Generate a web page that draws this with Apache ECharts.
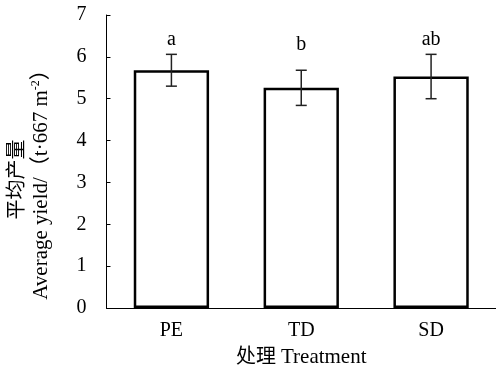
<!DOCTYPE html>
<html>
<head>
<meta charset="utf-8">
<script src="https://cdn.jsdelivr.net/npm/echarts@6/dist/echarts.min.js"></script>
<style>
  html, body { margin: 0; padding: 0; background: #fff; }
  #main { width: 496px; height: 373px; }
</style>
</head>
<body>
<div id="main"></div>
<script>
// data
const categories = ['PE', 'TD', 'SD'];
const yieldMean = [5.68, 5.26, 5.53];
const yieldErr = [0.38, 0.42, 0.53];
const letters = ['a', 'b', 'ab'];
const letterY = [6.18, 6.04, 6.18];

const FONT = "'Times New Roman', 'Liberation Serif', 'Noto Sans CJK SC', serif";

const chart = echarts.init(document.getElementById('main'));

const errData = categories.map((c, i) => [i, yieldMean[i] - yieldErr[i], yieldMean[i] + yieldErr[i]]);

chart.setOption({
  animation: false,
  grid: { left: 105, right: 0, top: 15, bottom: 65 },
  xAxis: {
    type: 'category',
    data: categories,
    axisLine: { lineStyle: { color: '#000', width: 1 } },
    axisTick: { inside: true, alignWithLabel: true, length: 4, lineStyle: { color: '#000' } },
    axisLabel: { color: '#000', fontFamily: FONT, fontSize: 20, margin: 13 },
    name: '{cn|处理 }{en|Treatment}',
    nameLocation: 'middle',
    nameGap: 39,
    nameTextStyle: {
      color: '#000',
      fontFamily: FONT,
      rich: {
        cn: { fontFamily: FONT, fontSize: 20, color: '#000' },
        en: { fontFamily: FONT, fontSize: 21, color: '#000' }
      }
    }
  },
  yAxis: {
    type: 'value',
    min: 0,
    max: 7,
    interval: 1,
    splitLine: { show: false },
    axisLine: { show: true, lineStyle: { color: '#000', width: 1 } },
    axisTick: { show: true, inside: true, length: 4, lineStyle: { color: '#000' } },
    axisLabel: { color: '#000', fontFamily: FONT, fontSize: 20, margin: 20 },
    name: '{cn|平均产量}\n{en|Average yield/（t·667 m}{sup|-2}{en|）}',
    nameLocation: 'middle',
    nameRotate: 90,
    nameGap: 54,
    nameTextStyle: {
      color: '#000',
      fontFamily: FONT,
      padding: [0, 36, 0, 0],
      rich: {
        cn: { fontFamily: FONT, fontSize: 20, lineHeight: 23, color: '#000' },
        en: { fontFamily: FONT, fontSize: 21, lineHeight: 23, color: '#000' },
        sup: { fontFamily: FONT, fontSize: 12, lineHeight: 23, color: '#000', verticalAlign: 'top', padding: [0, 0, 9, 0] }
      }
    }
  },
  series: [
    {
      type: 'bar',
      data: yieldMean,
      barWidth: '58%',
      itemStyle: { color: '#fff', borderColor: '#000', borderWidth: 2.5 }
    },
    {
      type: 'custom',
      data: errData,
      z: 10,
      renderItem: function (params, api) {
        const i = api.value(0);
        const lo = api.coord([i, api.value(1)]);
        const hi = api.coord([i, api.value(2)]);
        const lab = api.coord([i, letterY[params.dataIndex]]);
        const half = 5.5;
        const st = { stroke: '#222', lineWidth: 1.5 };
        return {
          type: 'group',
          children: [
            { type: 'line', shape: { x1: hi[0], y1: hi[1], x2: lo[0], y2: lo[1] }, style: st },
            { type: 'line', shape: { x1: hi[0] - half, y1: hi[1], x2: hi[0] + half, y2: hi[1] }, style: st },
            { type: 'line', shape: { x1: lo[0] - half, y1: lo[1], x2: lo[0] + half, y2: lo[1] }, style: st },
            {
              type: 'text',
              style: {
                text: letters[params.dataIndex],
                x: lab[0], y: lab[1],
                align: 'center', verticalAlign: 'bottom',
                fontFamily: FONT, fontSize: 20, fill: '#000'
              }
            }
          ]
        };
      }
    }
  ]
});
</script>
</body>
</html>
